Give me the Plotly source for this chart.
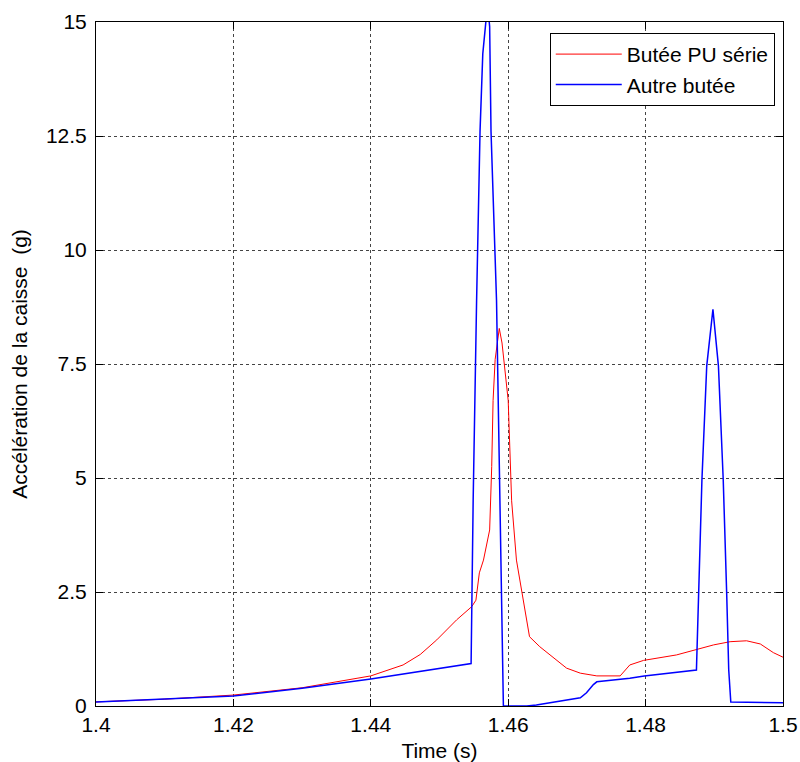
import plotly.graph_objects as go

# Time (s) and acceleration (g)
t_red = [1.400, 1.410, 1.420, 1.430, 1.440, 1.4447, 1.4472, 1.4496, 1.4525, 1.4547, 1.4553,
         1.4558, 1.4564, 1.4573, 1.4576, 1.4578, 1.4581, 1.4587, 1.4591, 1.4600, 1.4605,
         1.4612, 1.4631, 1.4646, 1.4685, 1.4705, 1.4729, 1.4763, 1.4777, 1.4797, 1.4845,
         1.4874, 1.4899, 1.4923, 1.4947, 1.4967, 1.4986, 1.500]
a_red = [0.09, 0.15, 0.24, 0.40, 0.66, 0.90, 1.13, 1.45, 1.89, 2.18, 2.32,
         2.92, 3.20, 3.86, 5.25, 6.70, 7.60, 8.28, 7.96, 6.70, 4.50,
         3.20, 1.52, 1.30, 0.83, 0.72, 0.66, 0.66, 0.90, 1.00, 1.12,
         1.24, 1.34, 1.41, 1.43, 1.36, 1.17, 1.07]

t_blue = [1.400, 1.410, 1.420, 1.430, 1.440, 1.4546, 1.4549, 1.4554, 1.4559, 1.4563,
          1.4568, 1.4570, 1.4573, 1.4574, 1.4575, 1.4583, 1.4588, 1.4591, 1.4593, 1.4627,
          1.4641, 1.4705, 1.4714, 1.4724, 1.4729, 1.4777, 1.4798, 1.4874, 1.4882, 1.4889,
          1.4898, 1.4906, 1.4913, 1.4918, 1.4921, 1.4924, 1.500]
a_blue = [0.09, 0.15, 0.22, 0.39, 0.59, 0.93, 4.50, 8.90, 12.60, 14.30,
          15.10, 15.40, 14.90, 13.60, 12.60, 8.90, 4.50, 0.93, 0.00, 0.00,
          0.02, 0.18, 0.29, 0.47, 0.53, 0.61, 0.66, 0.79, 4.96, 7.46,
          8.70, 7.46, 4.96, 2.48, 0.79, 0.09, 0.07]

x_ticks = [1.4, 1.42, 1.44, 1.46, 1.48, 1.5]
x_labels = ["1.4", "1.42", "1.44", "1.46", "1.48", "1.5"]
y_ticks = [0, 2.5, 5, 7.5, 10, 12.5, 15]
y_labels = ["0", "2.5", "5", "7.5", "10", "12.5", "15"]

fig = go.Figure()
fig.add_trace(go.Scatter(x=t_red, y=a_red, mode="lines", name="Butée PU série",
                         line=dict(color="#ff0000", width=1)))
fig.add_trace(go.Scatter(x=t_blue, y=a_blue, mode="lines", name="Autre butée",
                         line=dict(color="#0000ff", width=1.5)))

font = "Arial, Liberation Sans, sans-serif"
axis_common = dict(
    showline=True, linecolor="black", linewidth=1, mirror="ticks",
    ticks="inside", ticklen=7, tickcolor="black", automargin=False,
    showgrid=True, gridcolor="#444444", gridwidth=1, griddash="dot",
    zeroline=False, tickfont=dict(family=font, size=21, color="black"),
)
fig.update_xaxes(range=[1.4, 1.5], tickvals=x_ticks, ticktext=x_labels,
                 ticklabeloverflow="allow",
                 title=dict(text="Time (s)", font=dict(family=font, size=21, color="black"), standoff=9),
                 **axis_common)
fig.update_yaxes(range=[0, 15], tickvals=y_ticks, ticktext=y_labels,
                 title=dict(text="Accélération de la caisse\u00a0\u00a0(g)", font=dict(family=font, size=21, color="black"), standoff=12),
                 ticklabelstandoff=4,
                 **axis_common)

fig.update_layout(
    width=800, height=762,
    margin=dict(l=96, r=17, t=22, b=56),
    paper_bgcolor="white", plot_bgcolor="white",
    showlegend=True,
    legend=dict(x=0.988, y=0.984, xanchor="right", yanchor="top",
                bgcolor="white", bordercolor="black", borderwidth=1,
                font=dict(family=font, size=21, color="black"),
                itemwidth=66, tracegroupgap=0),
)

# remove the default 8px page margin so the figure fills the window
fig.write_html("out.html", config={"displayModeBar": False},
               post_script="document.body.style.margin='0';document.body.style.overflow='hidden';")
